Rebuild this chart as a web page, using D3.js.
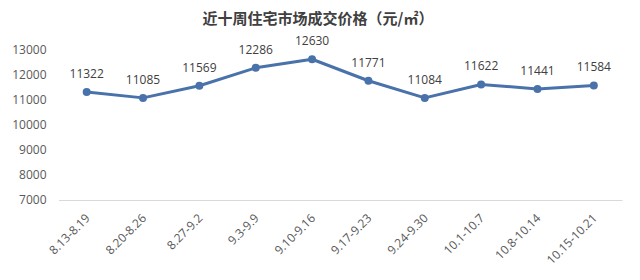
<!DOCTYPE html>
<html><head><meta charset="utf-8">
<script src="https://cdn.jsdelivr.net/npm/d3@7"></script>
<style>body{margin:0;background:#fff;}svg{display:block;}</style>
</head><body>
<svg id="c" width="640" height="280"></svg>
<script>
const title = "近十周住宅市场成交价格（元/㎡）";
const categories = ["8.13-8.19","8.20-8.26","8.27-9.2","9.3-9.9","9.10-9.16","9.17-9.23","9.24-9.30","10.1-10.7","10.8-10.14","10.15-10.21"];
const prices = [11322,11085,11569,12286,12630,11771,11084,11622,11441,11584];
const yTicks = [7000,8000,9000,10000,11000,12000,13000];

const svg = d3.select("#c");
const margin = {left:58.5, right:18, top:50, bottom:80};
const W = 640, H = 280;
const x = d3.scaleBand().domain(categories).range([margin.left, W - margin.right]);
const y = d3.scaleLinear().domain([7000, 13000]).range([H - margin.bottom, margin.top]);

svg.append("text").attr("x", 318).attr("y", 24).attr("text-anchor","middle")
  .attr("font-family","'Noto Sans CJK SC'").attr("font-weight","bold").attr("font-size",15)
  .attr("fill","#404040").text(title);

const yAxis = svg.append("g").attr("transform",`translate(${margin.left},0)`)
  .call(d3.axisLeft(y).tickValues(yTicks).tickSize(0).tickPadding(12).tickFormat(d3.format("d")));
yAxis.select(".domain").remove();
yAxis.selectAll("text").attr("font-family","'Open Sans', 'Liberation Sans', sans-serif").attr("font-size",12).attr("fill","#595959");

const xAxis = svg.append("g").attr("transform",`translate(0,${y(7000)})`)
  .call(d3.axisBottom(x).tickSize(0).tickPadding(0));
xAxis.select(".domain").attr("stroke","#d9d9d9").attr("stroke-width",1.2);
xAxis.selectAll("text")
  .attr("font-family","'Open Sans', 'Liberation Sans', sans-serif").attr("font-size",12).attr("fill","#595959")
  .attr("text-anchor","end").attr("dy",null).attr("y",0)
  .attr("transform","translate(4,19) rotate(-45)");

const cx = d => x(d) + x.bandwidth()/2;
const line = d3.line().x((d,i) => cx(categories[i])).y(d => y(d));
svg.append("path").datum(prices).attr("d", line).attr("fill","none")
  .attr("stroke","#4a72aa").attr("stroke-width",3).attr("stroke-linejoin","round");
svg.selectAll("circle.pt").data(prices).enter().append("circle").attr("class","pt")
  .attr("cx",(d,i)=>cx(categories[i])).attr("cy",d=>y(d)).attr("r",4).attr("fill","#4a72aa");
svg.selectAll("text.lbl").data(prices).enter().append("text").attr("class","lbl")
  .attr("x",(d,i)=>cx(categories[i])).attr("y",d=>y(d)-14).attr("text-anchor","middle")
  .attr("font-family","'Open Sans', 'Liberation Sans', sans-serif").attr("font-size",12).attr("fill","#404040")
  .text(d=>d);
</script>
</body></html>
